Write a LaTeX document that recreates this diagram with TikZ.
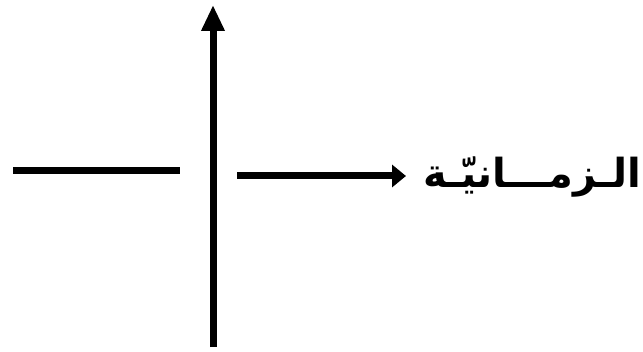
\documentclass[tikz,border=0pt]{standalone}
\usepackage{fontspec}
\newfontfamily\arabicfont[Script=Arabic]{DejaVu Sans}
\TeXXeTstate=1
\usetikzlibrary{arrows.meta}
\begin{document}
\begin{tikzpicture}[x=1pt,y=1pt,
  thickline/.style={line width=7pt},
  arr/.style={thickline,-{Triangle[length=26pt,width=22pt]}},
  harr/.style={thickline,-{Triangle[length=14pt,width=22pt]}},
  arlabel/.style={anchor=east,inner sep=0pt,font=\arabicfont\bfseries\fontsize{40}{44}\selectfont}]
\useasboundingbox (0,0) rectangle (643,351);
\coordinate (vb) at (213,4);
\coordinate (vt) at (213,346);
\coordinate (l1) at (13,180);
\coordinate (l2) at (180,180);
\coordinate (r1) at (237,175);
\coordinate (r2) at (406,175);
\node[arlabel] (txt) at (641,174) {\beginR الـزمـــانيّـة\endR};
\draw[arr] (vb) -- (vt);
\draw[thickline] (l1) -- (l2);
\draw[harr] (r1) -- (r2);
\end{tikzpicture}
\end{document}
